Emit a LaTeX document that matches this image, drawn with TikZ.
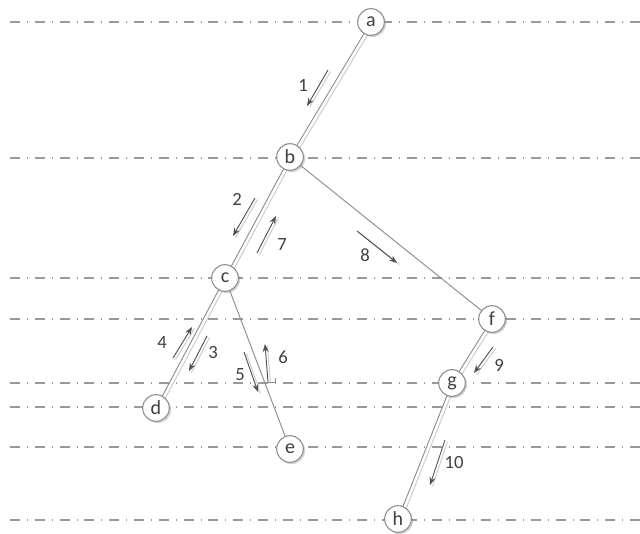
\documentclass[tikz,border=0pt]{standalone}
\usepackage{fontspec}
\setmainfont{Carlito}
\usetikzlibrary{arrows.meta,shadows}
\definecolor{txt}{HTML}{404040}
\definecolor{ln}{HTML}{8C8C8C}
\definecolor{lvl}{HTML}{9A9A9A}
\definecolor{lnl}{HTML}{CFCFCF}
\definecolor{arr}{HTML}{505050}
\tikzset{
  level/.style={draw=lvl, line width=1.1pt, dash pattern=on 7.5pt off 5.25pt on 0.6pt off 5.25pt},
  vertex/.style={circle, draw=ln, line width=0.8pt, fill=white, minimum size=20pt, inner sep=0pt,
     font=\fontsize{15}{17}\selectfont, text=txt,
     drop shadow={shadow xshift=1.3pt, shadow yshift=-1.3pt, opacity=0.35, fill=gray}},
  edge/.style={draw=ln, line width=0.7pt},
  edgeshadow/.style={draw=lnl, line width=0.8pt},
  move/.style={draw=arr, line width=0.7pt, -{Stealth[length=6pt,width=4.5pt]}},
  moveshadow/.style={draw=lnl, line width=0.8pt},
  num/.style={font=\fontsize{14}{16}\selectfont, text=txt, inner sep=0pt}
}
\begin{document}
\begin{tikzpicture}[x=0.75pt,y=-0.75pt]
\useasboundingbox (0,0) rectangle (640,533);
% level lines
\foreach \yy/\nm in {22/la,158/lb,278/lc,319/lf,383/lg,407/ld,447/le,520/lh}{
  \coordinate (\nm1) at (10,\yy);
  \coordinate (\nm2) at (640,\yy);
  \draw[level] (\nm1) -- (\nm2);
}
% node coordinates
\coordinate (pa) at (371,22);
\coordinate (pb) at (290,157);
\coordinate (pc) at (225,278);
\coordinate (pd) at (156,408);
\coordinate (pe) at (290,449);
\coordinate (pf) at (492,319);
\coordinate (pg) at (452,383);
\coordinate (ph) at (398,519);
% edges
\foreach \u/\v in {pa/pb,pb/pc,pc/pd,pf/pg,pg/ph}{
  \draw[edgeshadow] ([shift={(3.2,1.8)}]\u) -- ([shift={(3.2,1.8)}]\v);
}
\foreach \u/\v in {pa/pb,pb/pc,pc/pd,pc/pe,pb/pf,pf/pg,pg/ph}{
  \draw[edge] (\u) -- (\v);
}
% nodes
\node[vertex] (a) at (pa) {a};
\node[vertex] (b) at (pb) {b};
\node[vertex] (c) at (pc) {c};
\node[vertex] (d) at (pd) {d};
\node[vertex] (e) at (pe) {e};
\node[vertex] (f) at (pf) {f};
\node[vertex] (g) at (pg) {g};
\node[vertex] (h) at (ph) {h};
% traversal arrows
\foreach \n/\sx/\sy/\tx/\ty in {1/328/70/307/106, 2/255/198/233/236, 7/257/253/276/216,
   8/357/231/397/263, 4/173/358/192/327, 3/207/336/189/371, 5/244/352/258/392,
   6/268/382/265/344, 9/493/347/474/373, 10/445/440/430/485}{
  \coordinate (s\n) at (\sx,\sy);
  \coordinate (t\n) at (\tx,\ty);
  \draw[moveshadow] ([shift={(2.5,1.5)}]s\n) -- ([shift={(2.5,1.5)}]t\n);
  \draw[move] (s\n) -- (t\n);
}
\coordinate (k6) at (275,382);
\coordinate (k6b) at (275,378);
\draw[draw=ln, line width=0.6pt] (s6) -- (k6) -- (k6b);
% labels
\node[num] (n1) at (303,85) {1};
\node[num] (n2) at (237,199) {2};
\node[num] (n7) at (282,245) {7};
\node[num] (n8) at (365,255) {8};
\node[num] (n4) at (162,343) {4};
\node[num] (n3) at (213,353) {3};
\node[num] (n5) at (240,375) {5};
\node[num] (n6) at (283,357) {6};
\node[num] (n9) at (499,365) {9};
\node[num] (n10) at (454,463) {10};
\end{tikzpicture}
\end{document}
